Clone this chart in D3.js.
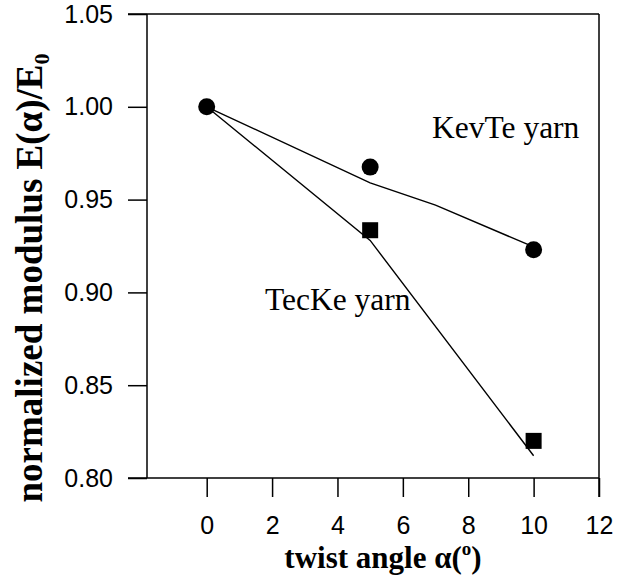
<!DOCTYPE html>
<html>
<head>
<meta charset="utf-8">
<script src="https://cdn.jsdelivr.net/npm/d3@7"></script>
<style>
  body { margin: 0; background: #fff; }
  svg { display: block; }
</style>
</head>
<body>
<div class="chart"></div>
<script>
// measured points
var twistAngle = [0, 5, 10];
var kevteModulus = [1.0, 0.9675, 0.923];
var teckeModulus = [1.0, 0.9335, 0.820];

// fitted curves
var kevteFitAngle = [0, 5, 7, 10];
var kevteFitValue = [1.0, 0.959, 0.947, 0.9245];
var teckeFitAngle = [0, 5, 10];
var teckeFitValue = [1.0, 0.928, 0.812];

var xTicks = [0, 2, 4, 6, 8, 10, 12];
var yTicks = [0.80, 0.85, 0.90, 0.95, 1.00, 1.05];

var width = 626,
  height = 579;

var svg = d3.select(".chart")
  .append("svg")
  .attr("width", width)
  .attr("height", height);

var x = d3.scaleLinear().domain([0, 12]).range([206.7, 599]);
var y = d3.scaleLinear().domain([0.80, 1.05]).range([478, 14]);

var axisX = 147,      // where the y axis line sits
  tickLen = 19,
  left = axisX - tickLen;

var sans = "'Liberation Sans', Arial, sans-serif",
  serif = "'Liberation Serif', 'Times New Roman', serif";

// frame: top, right
svg.append("line")
  .attr("x1", left).attr("x2", x(12))
  .attr("y1", y(1.05)).attr("y2", y(1.05))
  .attr("stroke", "#000").attr("stroke-width", 1.5);
svg.append("line")
  .attr("x1", x(12)).attr("x2", x(12))
  .attr("y1", y(1.05)).attr("y2", y(0.80) + tickLen)
  .attr("stroke", "#000").attr("stroke-width", 1.5);

// y axis
var yAxis = d3.axisLeft(y)
  .tickValues(yTicks)
  .tickSize(tickLen)
  .tickPadding(15)
  .tickFormat(d3.format(".2f"));
var gy = svg.append("g")
  .attr("transform", "translate(" + axisX + ",0)")
  .call(yAxis);
gy.select(".domain").remove();
gy.append("line")
  .attr("y1", y(1.05)).attr("y2", y(0.80))
  .attr("stroke", "#000").attr("stroke-width", 1.5);
gy.selectAll(".tick line").attr("stroke-width", 1.5);
gy.selectAll(".tick text")
  .attr("font-family", sans)
  .attr("font-size", 25)
  .attr("fill", "#000");

// x axis
var xAxis = d3.axisBottom(x)
  .tickValues(xTicks)
  .tickSize(tickLen)
  .tickPadding(19)
  .tickFormat(d3.format("d"));
var gx = svg.append("g")
  .attr("transform", "translate(0," + y(0.80) + ")")
  .call(xAxis);
gx.select(".domain").remove();
gx.append("line")
  .attr("x1", left).attr("x2", x(12))
  .attr("stroke", "#000").attr("stroke-width", 1.5);
gx.selectAll(".tick line").attr("stroke-width", 1.5);
gx.selectAll(".tick text")
  .attr("font-family", sans)
  .attr("font-size", 25)
  .attr("fill", "#000");

// fit lines
var line = d3.line()
  .x(function(d) { return x(d[0]); })
  .y(function(d) { return y(d[1]); });

svg.append("path")
  .attr("d", line(d3.zip(kevteFitAngle, kevteFitValue)))
  .attr("fill", "none").attr("stroke", "#000").attr("stroke-width", 1.4);
svg.append("path")
  .attr("d", line(d3.zip(teckeFitAngle, teckeFitValue)))
  .attr("fill", "none").attr("stroke", "#000").attr("stroke-width", 1.4);

// markers (the square at 0 is hidden under the circle in the original)
var sq = 16;
svg.selectAll(".sq")
  .data(d3.zip(twistAngle, teckeModulus).filter(function(d) { return d[0] > 0; }))
  .enter().append("rect")
  .attr("x", function(d) { return x(d[0]) - sq / 2; })
  .attr("y", function(d) { return y(d[1]) - sq / 2; })
  .attr("width", sq).attr("height", sq)
  .attr("fill", "#000");

svg.selectAll(".dot")
  .data(d3.zip(twistAngle, kevteModulus))
  .enter().append("circle")
  .attr("cx", function(d) { return x(d[0]); })
  .attr("cy", function(d) { return y(d[1]); })
  .attr("r", 8.5)
  .attr("fill", "#000");

// curve labels
svg.append("text")
  .attr("x", 432).attr("y", 138)
  .attr("font-family", serif).attr("font-size", 31.5)
  .text("KevTe yarn");
svg.append("text")
  .attr("x", 265).attr("y", 310)
  .attr("font-family", serif).attr("font-size", 31.5)
  .text("TecKe yarn");

// axis titles
var xt = svg.append("text")
  .attr("x", 383).attr("y", 568)
  .attr("text-anchor", "middle")
  .attr("font-family", serif).attr("font-size", 31).attr("font-weight", "bold");
xt.append("tspan").text("twist angle \u03b1(");
xt.append("tspan").attr("font-size", 19).attr("dy", -13).text("o");
xt.append("tspan").attr("dy", 13).text(")");

var yt = svg.append("text")
  .attr("transform", "translate(42,278) rotate(-90)")
  .attr("text-anchor", "middle")
  .attr("font-family", serif).attr("font-size", 37).attr("font-weight", "bold");
yt.append("tspan").text("normalized modulus E(\u03b1)/E");
yt.append("tspan").attr("font-size", 22).attr("dy", 7).text("0");
</script>
</body>
</html>
